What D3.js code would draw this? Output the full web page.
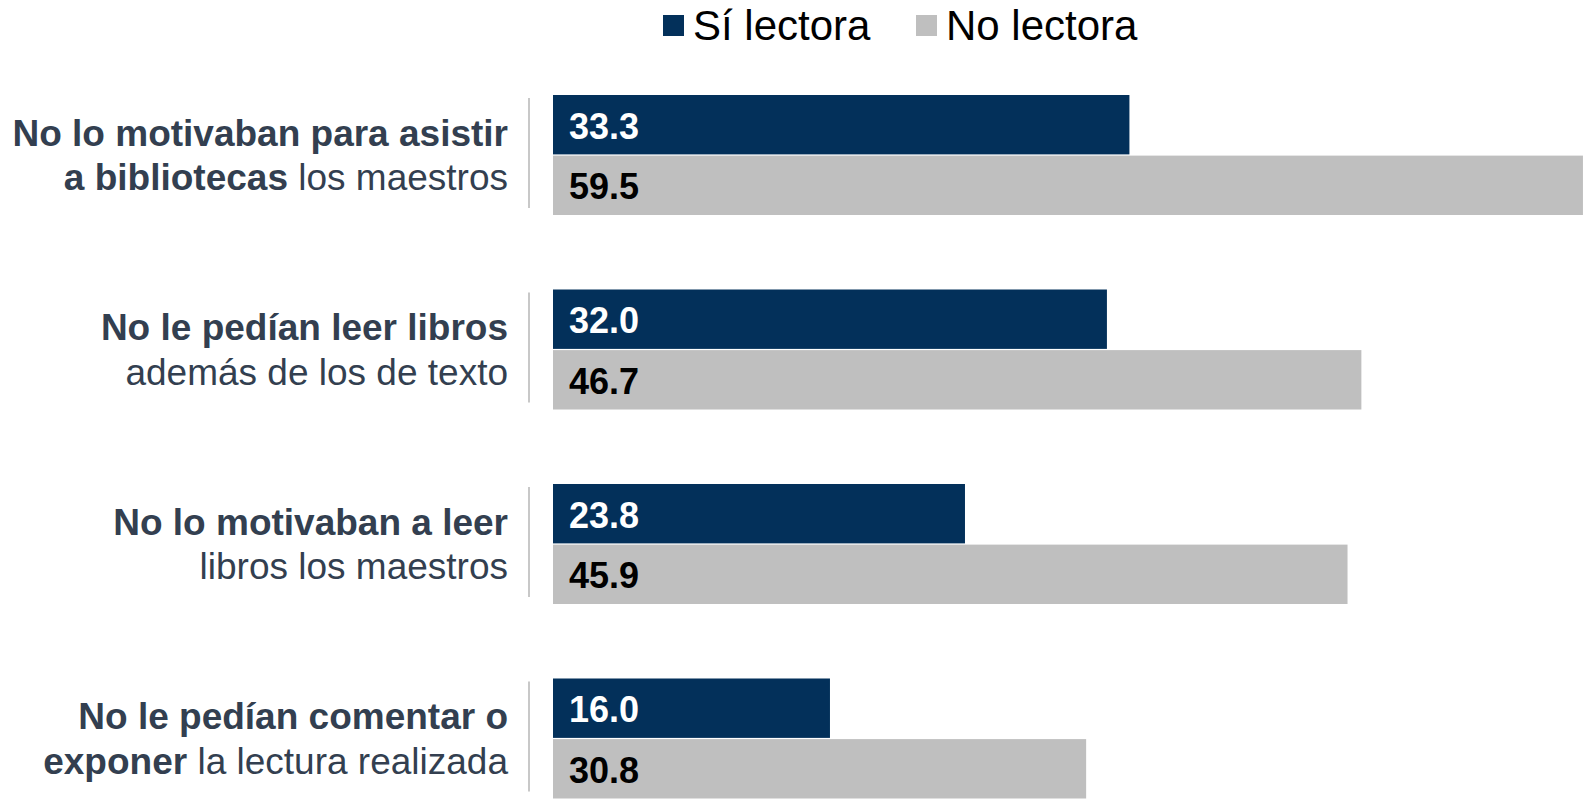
<!DOCTYPE html>
<meta charset="utf-8">
<style>
  body { margin: 0; background: #fff; }
  svg { font-family: "Liberation Sans", Arial, sans-serif; }
</style>
<body>
<script src="https://cdn.jsdelivr.net/npm/d3@7"></script>
<script>

  // data
  var categories = ["motivaban_bibliotecas", "pedian_libros", "motivaban_leer", "pedian_comentar"];
  var series = ["Sí lectora", "No lectora"];
  var siLectora = [33.3, 32.0, 23.8, 16.0];
  var noLectora = [59.5, 46.7, 45.9, 30.8];

  // category labels: two lines, each a list of [text, bold]
  var labelLines = [
    [[["No lo motivaban para asistir", true]], [["a bibliotecas", true], [" los maestros", false]]],
    [[["No le pedían leer libros", true]], [["además de los de texto", false]]],
    [[["No lo motivaban a leer", true]], [["libros los maestros", false]]],
    [[["No le pedían comentar o", true]], [["exponer", true], [" la lectura realizada", false]]]
  ];

  var colors = ["#03305a", "#bfbfbf"];
  var valueColors = ["#ffffff", "#000000"];
  var textColor = "#333f50";

  var width = 1588, height = 801;

  var svg = d3.select("body").append("svg")
      .attr("width", width)
      .attr("height", height);

  // scales
  var x = d3.scaleLinear().domain([0, 60]).range([553, 553 + 60 * 17.31]);
  var y = d3.scaleBand().domain(categories).range([95, 798.5]).paddingInner(0.383);
  var ySub = d3.scaleBand().domain(series).range([0, y.bandwidth()]).paddingInner(0.02);

  var rows = categories.map(function(c, i) {
    return { key: c, values: [siLectora[i], noLectora[i]], label: labelLines[i] };
  });

  var group = svg.selectAll(".group")
      .data(rows)
      .enter().append("g")
      .attr("class", "group")
      .attr("transform", function(d) { return "translate(0," + y(d.key) + ")"; });

  // small vertical axis line per group
  group.append("line")
      .attr("x1", 529).attr("x2", 529)
      .attr("y1", 3).attr("y2", y.bandwidth() - 7)
      .attr("stroke", "#c8c8c8")
      .attr("stroke-width", 2);

  var bars = group.selectAll(".bar")
      .data(function(d) { return d.values.map(function(v, j) { return { s: series[j], v: v, j: j }; }); })
      .enter();

  bars.append("rect")
      .attr("class", "bar")
      .attr("x", x(0))
      .attr("y", function(d) { return ySub(d.s); })
      .attr("width", function(d) { return x(d.v) - x(0); })
      .attr("height", ySub.bandwidth())
      .attr("fill", function(d) { return colors[d.j]; });

  bars.append("text")
      .attr("x", x(0) + 16)
      .attr("y", function(d) { return ySub(d.s) + ySub.bandwidth() / 2 + 14; })
      .attr("font-size", 36)
      .attr("font-weight", "bold")
      .attr("fill", function(d) { return valueColors[d.j]; })
      .text(function(d) { return d.v.toFixed(1); });

  // category labels
  var lineH = 44.5;
  var label = group.append("text")
      .attr("text-anchor", "end")
      .attr("font-size", 37)
      .attr("fill", textColor);

  label.each(function(d) {
    var t = d3.select(this);
    var mid = y.bandwidth() / 2;
    d.label.forEach(function(line, li) {
      line.forEach(function(seg, si) {
        var ts = t.append("tspan")
            .attr("font-weight", seg[1] ? "bold" : "normal")
            .text(seg[0]);
        if (si === 0) {
          ts.attr("x", 508).attr("y", mid + (li - 0.5) * lineH + 13);
        }
      });
    });
  });

  // legend
  var legendX = [663, 916];
  var legend = svg.selectAll(".legend")
      .data(series)
      .enter().append("g")
      .attr("class", "legend")
      .attr("transform", function(d, i) { return "translate(" + legendX[i] + ",0)"; });

  legend.append("rect")
      .attr("x", 0).attr("y", 15)
      .attr("width", 21).attr("height", 21)
      .attr("fill", function(d, i) { return colors[i]; });

  legend.append("text")
      .attr("x", 30).attr("y", 40)
      .attr("font-size", 42)
      .attr("fill", "#000")
      .text(function(d) { return d; });

</script>
</body>
